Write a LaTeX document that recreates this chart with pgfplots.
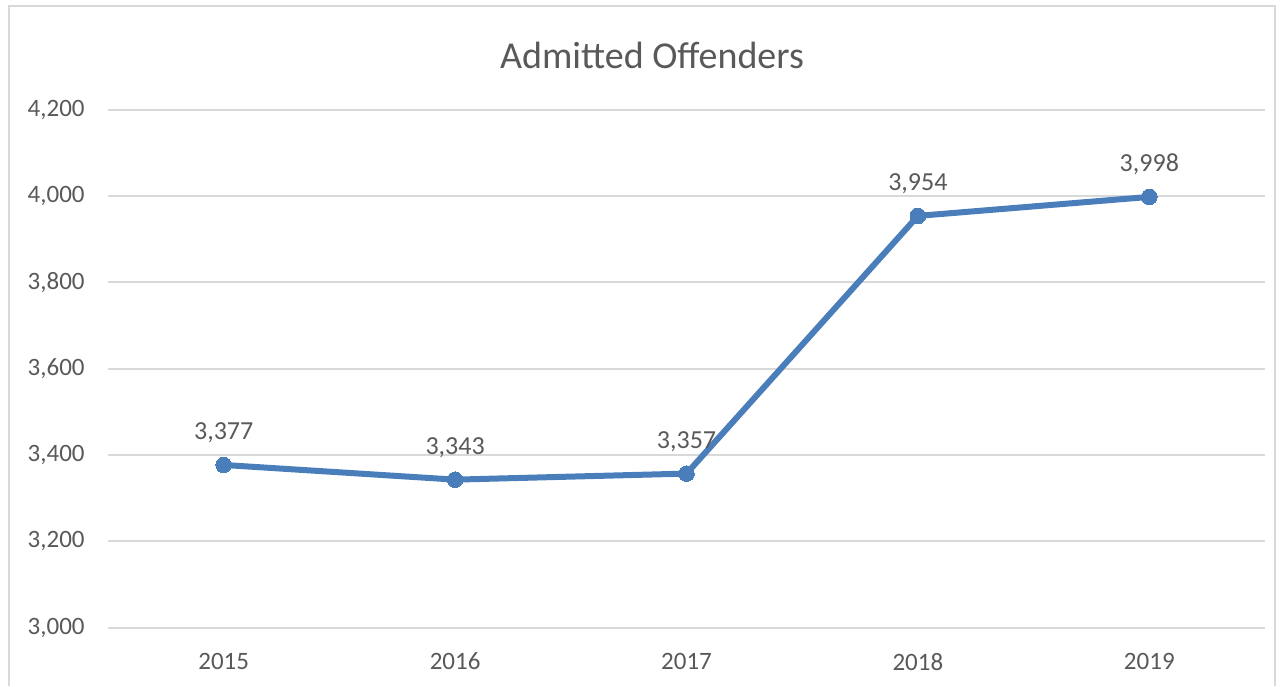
\documentclass[border=0pt]{standalone}
\usepackage{pgfplots}
\pgfplotsset{compat=1.18}
\usepackage{fontspec}
\setmainfont{Carlito}
\definecolor{txt}{HTML}{595959}
\definecolor{gridc}{HTML}{D9D9D9}
\definecolor{framec}{HTML}{D9D9D9}
\definecolor{linec}{HTML}{4A7EBB}
\begin{document}
\begin{tikzpicture}[x=1pt,y=1pt]
\useasboundingbox (0,0) rectangle (641.5,343);
\draw[framec, line width=1pt] (4.7,0) -- (4.7,339.8) -- (637.3,339.8) -- (637.3,0);
\node[color=txt, font=\fontsize{19}{23}\selectfont] at (326,315.5) {Admitted Offenders};
\begin{axis}[
  at={(54pt,29.15pt)}, anchor=south west,
  scale only axis, width=578.5pt, height=259pt,
  xmin=-0.5, xmax=4.5, ymin=3000, ymax=4200,
  ytick={3000,3200,3400,3600,3800,4000,4200},
  xtick={0,1,2,3,4},
  xticklabels={2015,2016,2017,2018,2019},
  axis line style={draw=none},
  major tick length=0pt,
  ymajorgrids,
  grid style={gridc, line width=0.9pt},
  tick label style={font=\fontsize{12.5}{15}\selectfont, color=txt},
  yticklabel style={inner sep=0pt, xshift=-11.5pt},
  xticklabel style={inner sep=0pt, yshift=-12.5pt},
  /pgf/number format/.cd, 1000 sep={,}, assume math mode=true,
  /pgfplots/.cd,
  clip=false,
]
\addplot[color=linec, line width=3pt, mark=*, mark size=3.9pt,
  mark options={fill=linec, draw=linec, line width=0pt},
  nodes near coords,
  every node near coord/.append style={anchor=base, yshift=12.5pt, inner sep=0pt, color=txt, font=\fontsize{13}{15}\selectfont},
] coordinates {(0,3377) (1,3343) (2,3357) (3,3954) (4,3998)};
\end{axis}
\end{tikzpicture}
\end{document}
